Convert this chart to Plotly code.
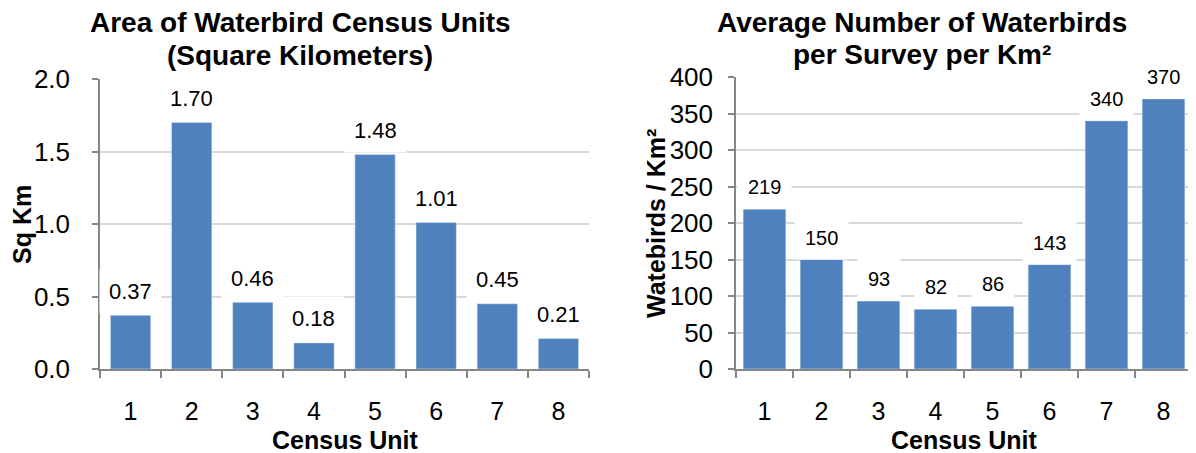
import plotly.graph_objects as go

# dados
unidades = ["1", "2", "3", "4", "5", "6", "7", "8"]
area_km2 = [0.37, 1.70, 0.46, 0.18, 1.48, 1.01, 0.45, 0.21]
aves_por_km2 = [219, 150, 93, 82, 86, 143, 340, 370]

W, H = 1196, 453
MARGEM_BODY = 8  # a página html põe o gráfico 8px para dentro
azul = '#4F81BD'
cinza_eixo = '#868686'
cinza_grade = '#D9D9D9'
fonte = 'Liberation Sans, Arial, sans-serif'


def px_x(p):
    return (p - MARGEM_BODY) / W


def px_y(p):
    return 1 - (p - MARGEM_BODY) / H


fig = go.Figure()

fig.add_trace(go.Bar(x=unidades, y=area_km2, marker_color=azul, width=0.66,
                     xaxis='x', yaxis='y', showlegend=False))
fig.add_trace(go.Bar(x=unidades, y=aves_por_km2, marker_color=azul, width=0.75,
                     xaxis='x2', yaxis='y2', showlegend=False))

eixo_x = dict(type='category', showline=True, linecolor=cinza_eixo, linewidth=1.5,
              ticks='outside', tickson='boundaries', ticklen=7, tickcolor=cinza_eixo,
              tickwidth=1.5, tickfont=dict(size=25, color='black'),
              ticklabelstandoff=19, showgrid=False, fixedrange=True,
              automargin=False, range=[-0.5, len(unidades) - 0.5])
eixo_y = dict(showline=True, linecolor=cinza_eixo, linewidth=1.5, ticks='outside',
              ticklen=6, tickcolor=cinza_eixo, tickwidth=1.5,
              tickfont=dict(size=26, color='black'), showgrid=True,
              gridcolor=cinza_grade, gridwidth=1.5, zeroline=False,
              automargin=False)

fig.update_layout(
    width=W, height=H,
    margin=dict(l=0, r=0, t=0, b=0, autoexpand=False),
    paper_bgcolor='white', plot_bgcolor='white',
    font=dict(family=fonte, color='black'),
    xaxis=dict(eixo_x, domain=[px_x(100), px_x(589)], anchor='y'),
    yaxis=dict(eixo_y, domain=[px_y(369), px_y(79)], range=[0, 2], dtick=0.5,
               tickformat='.1f', anchor='x', ticklabelstandoff=17),
    xaxis2=dict(eixo_x, domain=[px_x(736), px_x(1192)], anchor='y2'),
    yaxis2=dict(eixo_y, domain=[px_y(369), px_y(77)], range=[0, 400], dtick=50,
                anchor='x2', ticklabelstandoff=10),
)

anotacoes = []

# rótulos das barras (caixa branca por cima da grade)
# x pelo índice da categoria, senão "1" vira a segunda categoria
for i, v in enumerate(area_km2):
    anotacoes.append(dict(x=i, y=v, xref='x', yref='y', text=f'{v:.2f}',
                          showarrow=False, yshift=24, bgcolor='white', borderpad=9,
                          font=dict(size=22)))
for i, v in enumerate(aves_por_km2):
    anotacoes.append(dict(x=i, y=v, xref='x2', yref='y2', text=f'{v}',
                          showarrow=False, yshift=22, bgcolor='white', borderpad=10,
                          font=dict(size=20)))

# títulos
titulos = [
    ('Area of Waterbird Census Units', 300, 22),
    ('(Square Kilometers)', 300, 56),
    ('Average Number of Waterbirds', 922, 22),
    ('per Survey per Km²', 922, 55),
]
for texto, x, y in titulos:
    anotacoes.append(dict(x=px_x(x), y=px_y(y), xref='paper', yref='paper',
                          text=f'<b>{texto}</b>', showarrow=False,
                          font=dict(size=28), xanchor='center', yanchor='middle'))

# títulos dos eixos
titulos_eixos = [
    ('Census Unit', 345, 440, 0),
    ('Census Unit', 964, 440, 0),
    ('Sq Km', 22, 225, -90),
    ('Watebirds / Km²', 656, 224, -90),
]
for texto, x, y, ang in titulos_eixos:
    anotacoes.append(dict(x=px_x(x), y=px_y(y), xref='paper', yref='paper',
                          text=f'<b>{texto}</b>', showarrow=False, textangle=ang,
                          font=dict(size=25), xanchor='center', yanchor='middle'))

fig.update_layout(annotations=anotacoes)

fig.write_html("out.html")
